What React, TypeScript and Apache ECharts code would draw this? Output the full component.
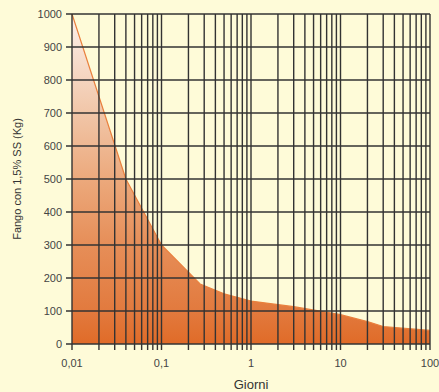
import React, { useEffect, useRef } from "react";
import * as echarts from "echarts";

const days = [0.01, 0.04, 0.1, 0.27, 0.5, 1, 3, 10, 20, 30, 100];
const sludgeKg = [1000, 500, 300, 182, 152, 130, 113, 89, 68, 53, 41];

const xGridDays = [
  0.01, 0.02, 0.03, 0.04, 0.05, 0.06, 0.07, 0.08, 0.09,
  0.1, 0.2, 0.3, 0.4, 0.5, 0.6, 0.7, 0.8, 0.9,
  1, 2, 3, 4, 5, 6, 7, 8, 9,
  10, 20, 30, 40, 50, 60, 70, 80, 90,
  100,
];
const yGridValues = [0, 100, 200, 300, 400, 500, 600, 700, 800, 900, 1000];
const xTickLabels = ["0,01", "0,1", "1", "10", "100"];

const xName = "Giorni";
const yName = "Fango con 1,5% SS (Kg)";

export default function App() {
  const ref = useRef<HTMLDivElement>(null);
  useEffect(() => {
    if (!ref.current) return;
    const chart = echarts.init(ref.current, undefined, { renderer: "svg" });
    const gridColor = "#333333";
    const font = "Liberation Sans, Arial, sans-serif";
    chart.setOption({
      animation: false,
      backgroundColor: "#fefbd8",
      textStyle: { fontFamily: font },
      grid: {
        left: 72,
        right: 9,
        top: 14,
        bottom: 48,
        containLabel: false,
        outerBoundsMode: "none",
      },
      xAxis: {
        type: "log",
        logBase: 10,
        min: 0.01,
        max: 100,
        name: xName,
        nameLocation: "middle",
        nameGap: 34,
        nameTextStyle: { fontSize: 13, color: "#333", fontFamily: font },
        axisLine: { show: false },
        axisTick: { show: false },
        splitLine: { show: false },
        axisLabel: {
          fontSize: 11,
          color: "#444",
          margin: 13,
          fontFamily: font,
          formatter: (v: number) => {
            const i = Math.round(Math.log10(v)) + 2;
            return xTickLabels[i] ?? "";
          },
        },
      },
      yAxis: {
        type: "value",
        min: 0,
        max: 1000,
        interval: 100,
        name: yName,
        nameLocation: "middle",
        nameGap: 50,
        nameTextStyle: { fontSize: 11, color: "#333", fontFamily: font },
        axisLine: { show: false },
        axisTick: { show: false },
        splitLine: { show: false },
        axisLabel: {
          fontSize: 11,
          color: "#444",
          margin: 10,
          fontFamily: font,
          formatter: (v: number) => String(v),
        },
      },
      series: [
        {
          type: "line",
          data: days.map((d, i) => [d, sludgeKg[i]]),
          symbol: "none",
          lineStyle: { color: "#e9803e", width: 1.2 },
          areaStyle: {
            color: new echarts.graphic.LinearGradient(0, 0, 0, 1, [
              { offset: 0, color: "#fcf0ea" },
              { offset: 0.1, color: "#f8e2d5" },
              { offset: 0.3, color: "#f1c6a8" },
              { offset: 0.5, color: "#eca97c" },
              { offset: 0.7, color: "#e68e58" },
              { offset: 0.9, color: "#e27a3e" },
              { offset: 1, color: "#e06b28" },
            ]),
            opacity: 1,
          },
          z: 2,
        },
        {
          type: "custom",
          z: 5,
          silent: true,
          data: xGridDays.map((d) => [d, 0]),
          renderItem: (params: any, api: any) => {
            const b = api.coord([api.value(0), 0]);
            const t = api.coord([api.value(0), 1000]);
            return {
              type: "line",
              shape: { x1: b[0], y1: t[1], x2: b[0], y2: b[1] + 6 },
              style: { stroke: gridColor, lineWidth: 1.4 },
            };
          },
        },
        {
          type: "custom",
          z: 5,
          silent: true,
          data: yGridValues.map((v) => [0.01, v]),
          renderItem: (params: any, api: any) => {
            const l = api.coord([0.01, api.value(1)]);
            const r = api.coord([100, api.value(1)]);
            return {
              type: "line",
              shape: { x1: l[0] - 6, y1: l[1], x2: r[0], y2: r[1] },
              style: { stroke: gridColor, lineWidth: 1.4 },
            };
          },
        },
      ],
    });
    return () => chart.dispose();
  }, []);
  return (
    <div
      ref={ref}
      style={{ position: "absolute", left: 0, top: 0, width: 439, height: 392 }}
    />
  );
}
